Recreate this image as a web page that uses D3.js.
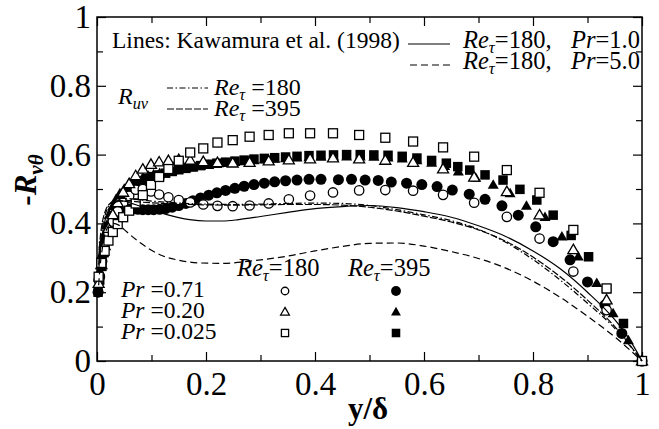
<!DOCTYPE html>
<html>
<head>
<meta charset="utf-8">
<title>-R_vtheta vs y/delta</title>
<script src="https://d3js.org/d3.v7.min.js"></script>
<style>
  body { margin: 0; background: #fff; }
  svg text { font-family: "Liberation Serif", "Times New Roman", serif; fill: #000; white-space: pre; }
</style>
</head>
<body>
<script>

// axis ticks
var xMajor = [0, 0.2, 0.4, 0.6, 0.8, 1];
var xMinor = [0.1, 0.3, 0.5, 0.7, 0.9];
var yMajor = [0, 0.2, 0.4, 0.6, 0.8, 1];
var yMinor = [0.1, 0.3, 0.5, 0.7, 0.9];
var xTickLabels = ["0", "0.2", "0.4", "0.6", "0.8", "1"];
var yTickLabels = ["0", "0.2", "0.4", "0.6", "0.8", "1"];

// Re_tau = 180 (open symbols): shared y/delta positions
var x180 = [0.003, 0.008, 0.014, 0.021, 0.029, 0.038, 0.048, 0.059, 0.071, 0.084, 0.099, 0.114, 0.131, 0.15,
            0.171, 0.195, 0.221, 0.249, 0.28, 0.315, 0.352, 0.391, 0.433, 0.481, 0.529, 0.58, 0.635, 0.692,
            0.752, 0.812, 0.874, 0.935, 1.0];
var circ180 = [0.235, 0.285, 0.33, 0.37, 0.405, 0.435, 0.46, 0.48, 0.498, 0.5, 0.493, 0.484, 0.476, 0.468,
               0.461, 0.455, 0.451, 0.45, 0.452, 0.458, 0.47, 0.481, 0.49, 0.496, 0.497, 0.495, 0.483, 0.46,
               0.419, 0.356, 0.26, 0.148, 0.0];
var tri180 = [0.225, 0.28, 0.335, 0.385, 0.425, 0.46, 0.49, 0.515, 0.538, 0.557, 0.571, 0.578, 0.582, 0.585,
              0.583, 0.579, 0.576, 0.575, 0.577, 0.581, 0.584, 0.587, 0.59, 0.587, 0.583, 0.577, 0.558, 0.534,
              0.492, 0.424, 0.323, 0.177, 0.0];
var sq180 = [0.245, 0.285, 0.32, 0.35, 0.375, 0.398, 0.418, 0.437, 0.458, 0.482, 0.512, 0.535, 0.558, 0.582,
             0.606, 0.618, 0.635, 0.642, 0.652, 0.657, 0.662, 0.662, 0.662, 0.657, 0.649, 0.638, 0.621, 0.594,
             0.555, 0.489, 0.381, 0.211, 0.0];

// Re_tau = 395 (filled symbols): [y/delta, -R_vtheta]
var circ395 = [[0.002,0.2],[0.005,0.245],[0.009,0.29],[0.013,0.33],[0.018,0.365],[0.023,0.39],[0.029,0.41],
  [0.035,0.425],[0.042,0.435],[0.05,0.44],[0.058,0.442],[0.066,0.442],[0.075,0.441],[0.084,0.44],[0.094,0.44],
  [0.104,0.44],[0.115,0.441],[0.126,0.443],[0.138,0.447],[0.15,0.452],[0.163,0.458],[0.176,0.466],[0.19,0.474],
  [0.205,0.482],[0.22,0.489],[0.236,0.496],[0.253,0.502],[0.27,0.508],[0.288,0.513],[0.307,0.517],[0.326,0.521],
  [0.346,0.524],[0.367,0.526],[0.389,0.528],[0.411,0.528],[0.443,0.527],[0.467,0.528],[0.492,0.526],[0.516,0.525],
  [0.54,0.52],[0.568,0.517],[0.596,0.513],[0.624,0.507],[0.652,0.497],[0.683,0.485],[0.712,0.47],[0.743,0.451],
  [0.773,0.424],[0.805,0.39],[0.837,0.347],[0.868,0.294],[0.9,0.23],[0.932,0.163],[0.963,0.08],[1,0]];
var tri395 = [[0.002,0.21],[0.005,0.26],[0.009,0.31],[0.013,0.355],[0.018,0.395],[0.023,0.425],[0.029,0.45],
  [0.035,0.47],[0.042,0.487],[0.05,0.5],[0.058,0.512],[0.066,0.52],[0.075,0.527],[0.084,0.533],[0.094,0.538],
  [0.104,0.542],[0.115,0.546],[0.126,0.55],[0.138,0.553],[0.15,0.557],[0.163,0.56],[0.176,0.563],[0.19,0.566],
  [0.205,0.569],[0.22,0.572],[0.236,0.575],[0.253,0.578],[0.27,0.58],[0.288,0.583],[0.307,0.585],[0.326,0.587],
  [0.346,0.589],[0.367,0.591],[0.389,0.592],[0.411,0.593],[0.434,0.594],[0.458,0.594],[0.483,0.594],[0.508,0.593],
  [0.534,0.591],[0.56,0.588],[0.587,0.583],[0.614,0.576],[0.638,0.566],[0.663,0.55],[0.695,0.532],[0.727,0.512],
  [0.758,0.487],[0.788,0.451],[0.822,0.418],[0.853,0.361],[0.883,0.303],[0.917,0.226],[0.947,0.138],[0.975,0.06],[1,0]];
var sq395 = [[0.002,0.2],[0.005,0.235],[0.009,0.275],[0.013,0.315],[0.018,0.355],[0.023,0.39],[0.029,0.42],
  [0.035,0.445],[0.042,0.465],[0.05,0.48],[0.058,0.494],[0.066,0.505],[0.075,0.515],[0.084,0.523],[0.094,0.53],
  [0.104,0.536],[0.115,0.541],[0.126,0.546],[0.138,0.551],[0.15,0.556],[0.163,0.56],[0.176,0.564],[0.19,0.568],
  [0.205,0.572],[0.22,0.575],[0.236,0.578],[0.253,0.581],[0.27,0.584],[0.288,0.587],[0.307,0.589],[0.326,0.591],
  [0.346,0.593],[0.367,0.595],[0.389,0.597],[0.411,0.598],[0.434,0.599],[0.458,0.6],[0.483,0.6],[0.508,0.599],
  [0.534,0.598],[0.56,0.595],[0.587,0.59],[0.614,0.583],[0.641,0.575],[0.662,0.565],[0.684,0.555],[0.712,0.541],
  [0.745,0.526],[0.776,0.499],[0.807,0.468],[0.837,0.424],[0.87,0.365],[0.902,0.303],[0.935,0.21],[0.966,0.109],[1,0]];

// Kawamura et al. (1998) lines
var kawPr1 = [[0.003,0.26],[0.006,0.32],[0.01,0.37],[0.015,0.41],[0.02,0.435],[0.03,0.457],[0.04,0.465],[0.05,0.465],
  [0.06,0.46],[0.07,0.455],[0.085,0.447],[0.1,0.44],[0.115,0.432],[0.13,0.425],[0.15,0.417],[0.17,0.411],[0.2,0.407],
  [0.23,0.407],[0.26,0.411],[0.3,0.42],[0.35,0.432],[0.4,0.443],[0.45,0.449],[0.5,0.452],[0.55,0.446],[0.6,0.434],
  [0.65,0.418],[0.7,0.393],[0.75,0.362],[0.8,0.32],[0.85,0.268],[0.9,0.2],[0.95,0.12],[0.975,0.068],[1,0]];
var kawPr5 = [[0.003,0.22],[0.006,0.28],[0.01,0.33],[0.015,0.37],[0.02,0.39],[0.03,0.4],[0.04,0.395],[0.05,0.382],
  [0.06,0.368],[0.08,0.343],[0.1,0.322],[0.12,0.306],[0.15,0.293],[0.19,0.285],[0.23,0.284],[0.29,0.292],[0.35,0.305],
  [0.4,0.32],[0.45,0.333],[0.5,0.342],[0.55,0.343],[0.6,0.334],[0.65,0.318],[0.7,0.298],[0.75,0.27],[0.8,0.232],
  [0.85,0.185],[0.9,0.13],[0.95,0.07],[1,0]];
// R_uv lines
var ruv180 = [[0.003,0.28],[0.006,0.34],[0.01,0.39],[0.015,0.425],[0.02,0.447],[0.03,0.465],[0.04,0.472],[0.05,0.473],
  [0.07,0.47],[0.1,0.465],[0.15,0.459],[0.2,0.456],[0.25,0.455],[0.3,0.456],[0.35,0.458],[0.4,0.459],[0.45,0.458],
  [0.5,0.452],[0.55,0.44],[0.6,0.425],[0.65,0.408],[0.7,0.383],[0.75,0.345],[0.8,0.295],[0.85,0.235],[0.9,0.168],
  [0.95,0.095],[1,0]];
var ruv395 = [[0.003,0.3],[0.006,0.36],[0.01,0.405],[0.015,0.435],[0.02,0.452],[0.03,0.463],[0.04,0.466],[0.06,0.465],
  [0.08,0.462],[0.1,0.46],[0.15,0.456],[0.2,0.454],[0.25,0.453],[0.3,0.454],[0.35,0.455],[0.4,0.455],[0.45,0.453],
  [0.5,0.447],[0.55,0.436],[0.6,0.421],[0.65,0.404],[0.7,0.381],[0.75,0.348],[0.8,0.302],[0.85,0.245],[0.9,0.177],
  [0.95,0.1],[1,0]];

var width = 659, height = 429;
var pLeft = 97, pRight = 642, pTop = 17, pBottom = 361;

var svg = d3.select("body").append("svg")
    .attr("width", width)
    .attr("height", height);

svg.append("rect").attr("width", width).attr("height", height).attr("fill", "#fff");

var x = d3.scaleLinear().domain([0, 1]).range([pLeft, pRight]);
var y = d3.scaleLinear().domain([0, 1]).range([pBottom, pTop]);

/*
   axes: inward ticks on all four sides
*/
function styleAxis(g) {
  g.select(".domain").remove();
  g.selectAll(".tick line").attr("stroke-width", 1.2);
  g.attr("font-family", "Liberation Serif, serif").attr("font-size", 33);
}

svg.append("g").attr("transform", "translate(0," + pBottom + ")")
    .call(d3.axisBottom(x).tickValues(xMajor).tickSize(-9).tickPadding(11)
      .tickFormat(function(d, i) { return xTickLabels[i]; }))
    .call(styleAxis);
svg.append("g").attr("transform", "translate(0," + pBottom + ")")
    .call(d3.axisBottom(x).tickValues(xMinor).tickSize(-6).tickFormat(""))
    .call(styleAxis);
svg.append("g").attr("transform", "translate(0," + pTop + ")")
    .call(d3.axisTop(x).tickValues(xMajor).tickSize(-9).tickFormat(""))
    .call(styleAxis);
svg.append("g").attr("transform", "translate(0," + pTop + ")")
    .call(d3.axisTop(x).tickValues(xMinor).tickSize(-6).tickFormat(""))
    .call(styleAxis);

svg.append("g").attr("transform", "translate(" + pLeft + ",0)")
    .call(d3.axisLeft(y).tickValues(yMajor).tickSize(-9).tickPadding(6)
      .tickFormat(function(d, i) { return yTickLabels[i]; }))
    .call(styleAxis);
svg.append("g").attr("transform", "translate(" + pLeft + ",0)")
    .call(d3.axisLeft(y).tickValues(yMinor).tickSize(-6).tickFormat(""))
    .call(styleAxis);
svg.append("g").attr("transform", "translate(" + pRight + ",0)")
    .call(d3.axisRight(y).tickValues(yMajor).tickSize(-9).tickFormat(""))
    .call(styleAxis);
svg.append("g").attr("transform", "translate(" + pRight + ",0)")
    .call(d3.axisRight(y).tickValues(yMinor).tickSize(-6).tickFormat(""))
    .call(styleAxis);

svg.append("rect")
    .attr("x", pLeft).attr("y", pTop)
    .attr("width", pRight - pLeft).attr("height", pBottom - pTop)
    .attr("fill", "none").attr("stroke", "#000").attr("stroke-width", 1.5);

/*
   markers
*/
function marker(g, shape, filled, cx, cy, s) {
  var el;
  if (shape == "circle") {
    el = g.append("circle").attr("cx", cx).attr("cy", cy).attr("r", filled ? s * 0.55 : s * 0.47);
  } else if (shape == "square") {
    var a = filled ? s * 0.95 : s * 0.9;
    el = g.append("rect").attr("x", cx - a / 2).attr("y", cy - a / 2).attr("width", a).attr("height", a);
  } else {
    var h = s * 0.95, w = s * 1.1;
    el = g.append("path").attr("d", "M" + cx + "," + (cy - h * 0.6) + "L" + (cx + w / 2) + "," + (cy + h * 0.4) +
        "L" + (cx - w / 2) + "," + (cy + h * 0.4) + "Z");
  }
  if (filled) el.attr("fill", "#000").attr("stroke", "none");
  else el.attr("fill", "#fff").attr("stroke", "#000").attr("stroke-width", 1.3);
}

var marks = svg.append("g");
[[circ395, "circle"], [tri395, "triangle"], [sq395, "square"]].forEach(function(sr) {
  sr[0].forEach(function(d) { marker(marks, sr[1], true, x(d[0]), y(d[1]), 10); });
});
[[circ180, "circle"], [tri180, "triangle"], [sq180, "square"]].forEach(function(sr) {
  sr[0].forEach(function(v, i) { marker(marks, sr[1], false, x(x180[i]), y(v), 10); });
});

/*
   lines
*/
var line = d3.line()
    .x(function(d) { return x(d[0]); })
    .y(function(d) { return y(d[1]); })
    .curve(d3.curveMonotoneX);

var lineSeries = [
  [kawPr1, null],
  [kawPr5, "7,4"],
  [ruv180, "6,2.5,1.5,2.5"],
  [ruv395, "7,2"]
];
lineSeries.forEach(function(ls) {
  svg.append("path").datum(ls[0])
      .attr("d", line)
      .attr("fill", "none")
      .attr("stroke", "#000")
      .attr("stroke-width", 1.2)
      .attr("stroke-dasharray", ls[1]);
});

/*
   text helpers
*/
function rich(parent, tx, ty, parts, size, anchor) {
  var t = parent.append("text").attr("x", tx).attr("y", ty)
      .attr("font-size", size).attr("text-anchor", anchor || "start");
  var shift = 0;
  parts.forEach(function(p) {
    var down = p.sub ? size * 0.22 : 0;
    var s = t.append("tspan").text(p.t).attr("dy", down - shift);
    if (p.i) s.attr("font-style", "italic");
    if (p.sub) s.attr("font-size", size * 0.68);
    shift = down;
  });
  return t;
}

var fs = 23.5;
var leg = svg.append("g");

// top legend
leg.append("text").attr("x", 112).attr("y", 48).attr("font-size", 23.5)
    .text("Lines: Kawamura et al. (1998)");
function legLine(x1, x2, yy, dash) {
  leg.append("line").attr("x1", x1).attr("x2", x2).attr("y1", yy).attr("y2", yy)
      .attr("stroke", "#000").attr("stroke-width", 1.2).attr("stroke-dasharray", dash);
}
legLine(408, 450, 44, null);
legLine(410, 450, 65, "7,4");
rich(leg, 463, 48, [{t: "Re", i: true}, {t: "τ", i: true, sub: true}, {t: "=180,"}], 24.5);
rich(leg, 640, 48, [{t: "Pr", i: true}, {t: "=1.0"}], 24.5, "end");
rich(leg, 463, 69, [{t: "Re", i: true}, {t: "τ", i: true, sub: true}, {t: "=180,"}], 24.5);
rich(leg, 640, 69, [{t: "Pr", i: true}, {t: "=5.0"}], 24.5, "end");

rich(leg, 118, 104, [{t: "R", i: true}, {t: "uv", i: true, sub: true}], 24);
legLine(167, 208, 88, "6,2.5,1.5,2.5");
legLine(167, 208, 109, "7,2");
rich(leg, 214, 95, [{t: "Re", i: true}, {t: "τ", i: true, sub: true}, {t: " =180"}], 24);
rich(leg, 214, 116, [{t: "Re", i: true}, {t: "τ", i: true, sub: true}, {t: " =395"}], 24);

// bottom legend
rich(leg, 237, 276, [{t: "Re", i: true}, {t: "τ", i: true, sub: true}, {t: "=180"}], 24.5);
rich(leg, 348, 276, [{t: "Re", i: true}, {t: "τ", i: true, sub: true}, {t: "=395"}], 24.5);
var prLabels = ["=0.71", "=0.20", "=0.025"];
var prShapes = ["circle", "triangle", "square"];
var prRows = [297, 318, 339];
prLabels.forEach(function(lb, i) {
  rich(leg, 121, prRows[i], [{t: "Pr", i: true}, {t: " " + lb}], fs);
  marker(leg, prShapes[i], false, 285, prRows[i] - 6, 8);
  marker(leg, prShapes[i], true, 396, prRows[i] - 6, 9);
});

// axis titles
svg.append("text").attr("x", 368).attr("y", 419)
    .attr("text-anchor", "middle").attr("font-size", 31).attr("font-weight", "bold")
    .text("y/δ");

var yt = svg.append("g").attr("transform", "translate(36,180) rotate(-90)");
rich(yt, 0, 0, [{t: "-"}, {t: "R", i: true}, {t: "vθ", i: true, sub: true}], 31, "middle")
    .attr("font-weight", "bold");

</script>
</body>
</html>
